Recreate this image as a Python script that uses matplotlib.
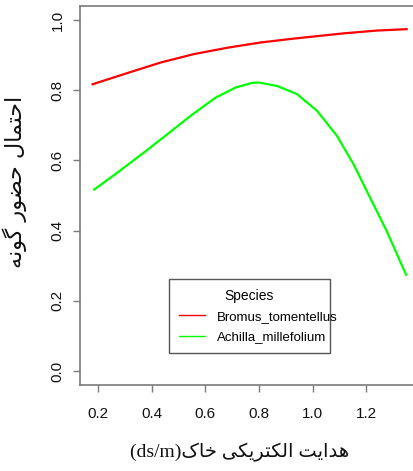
import matplotlib
matplotlib.use("Agg")
import matplotlib.pyplot as plt
from matplotlib import font_manager

# values
red_x = [0.18, 0.31, 0.434, 0.558, 0.682, 0.806, 0.929, 1.115, 1.24, 1.351]
red_y = [0.817, 0.849, 0.879, 0.903, 0.921, 0.936, 0.947, 0.962, 0.970, 0.974]
green_x = [0.186, 0.279, 0.379, 0.466, 0.552, 0.639, 0.714, 0.775, 0.80, 0.868,
           0.942, 1.017, 1.091, 1.153, 1.215, 1.277, 1.349]
green_y = [0.517, 0.569, 0.627, 0.679, 0.731, 0.779, 0.808, 0.821, 0.822, 0.812,
           0.789, 0.741, 0.670, 0.589, 0.493, 0.398, 0.274]
species = ["Bromus_tomentellus", "Achilla_millefolium"]
x_ticks = [0.2, 0.4, 0.6, 0.8, 1.0, 1.2]
y_ticks = [0.0, 0.2, 0.4, 0.6, 0.8, 1.0]
x_label_fa = "هدایت الکتریکی خاک"
x_label_unit = "(ds/m)"
y_label_fa = "احتمال حضور گونه"

# presentation forms: iso, fin, ini, med (None -> letter does not join forward)
FORMS = {
    "ا": ("\uFE8D", "\uFE8E", None, None),
    "د": ("\uFEA9", "\uFEAA", None, None),
    "ر": ("\uFEAD", "\uFEAE", None, None),
    "و": ("\uFEED", "\uFEEE", None, None),
    "ح": ("\uFEA1", "\uFEA2", "\uFEA3", "\uFEA4"),
    "خ": ("\uFEA5", "\uFEA6", "\uFEA7", "\uFEA8"),
    "ت": ("\uFE95", "\uFE96", "\uFE97", "\uFE98"),
    "م": ("\uFEE1", "\uFEE2", "\uFEE3", "\uFEE4"),
    "ل": ("\uFEDD", "\uFEDE", "\uFEDF", "\uFEE0"),
    "ض": ("\uFEBD", "\uFEBE", "\uFEBF", "\uFEC0"),
    "ن": ("\uFEE5", "\uFEE6", "\uFEE7", "\uFEE8"),
    "ه": ("\uFEE9", "\uFEEA", "\uFEEB", "\uFEEC"),
    "گ": ("\uFB92", "\uFB93", "\uFB94", "\uFB95"),
    "ک": ("\uFB8E", "\uFB8F", "\uFB90", "\uFB91"),
    "ی": ("\uFBFC", "\uFBFD", "\uFBFE", "\uFBFF"),
}


def shape(text):
    # join arabic letters and flip to visual (left-to-right) order
    out = []
    for i, ch in enumerate(text):
        if ch not in FORMS:
            out.append(ch)
            continue
        prev = text[i - 1] if i > 0 else ""
        nxt = text[i + 1] if i + 1 < len(text) else ""
        joins_prev = prev in FORMS and FORMS[prev][2] is not None
        joins_next = nxt in FORMS and FORMS[ch][2] is not None
        iso, fin, ini, med = FORMS[ch]
        if joins_prev and joins_next:
            out.append(med)
        elif joins_prev:
            out.append(fin)
        elif joins_next:
            out.append(ini)
        else:
            out.append(iso)
    return "".join(out[::-1])


names = {f.name for f in font_manager.fontManager.ttflist}
sans = "Liberation Sans Narrow" if "Liberation Sans Narrow" in names else "Liberation Sans"
plt.rcParams["font.family"] = [sans, "DejaVu Sans"]

W, H = 414, 471
fig = plt.figure(figsize=(W / 100, H / 100), dpi=100)
ax = fig.add_axes([80 / W, (H - 385) / H, 339 / W, 379 / H])

ax.plot(red_x, red_y, color="#ff0000", lw=1.6, label=species[0])
ax.plot(green_x, green_y, color="#00ff00", lw=1.6, label=species[1])

ax.set_xlim(0.133, 1.397)
ax.set_ylim(-0.04, 1.04)
ax.set_xticks(x_ticks)
ax.set_xticklabels([f"{v:.1f}" for v in x_ticks])
ax.set_yticks(y_ticks)
ax.set_yticklabels([f"{v:.1f}" for v in y_ticks], rotation=90, va="center")

grey = "#7a7a7a"
for sp in ax.spines.values():
    sp.set_color(grey)
    sp.set_linewidth(1.2)
ax.tick_params(axis="both", direction="out", length=5, width=1, color=grey,
               labelsize=11, labelcolor="#111111")
ax.tick_params(axis="x", pad=11)
ax.tick_params(axis="y", pad=6)

leg = ax.legend(title="Species", loc="upper left",
                bbox_to_anchor=(0.2625, 0.0765, 0.475, 0.2032), mode="expand",
                fontsize=9.5, title_fontsize=10, frameon=True, fancybox=False,
                edgecolor="#555555", framealpha=1, handlelength=2.0,
                handletextpad=0.9, borderpad=0.75, labelspacing=0.6, borderaxespad=0)
leg.get_frame().set_linewidth(1.0)
for ln in leg.get_lines():
    ln.set_linewidth(1.0)

fig.text(240 / W, 1 - 452 / H, x_label_unit + shape(x_label_fa),
         family=["Liberation Serif", "DejaVu Sans"], fontsize=14,
         ha="center", va="center", color="#111111")
fig.text(15 / W, 1 - 182 / H, shape(y_label_fa), family=["DejaVu Sans"],
         fontsize=16, rotation=90, ha="center", va="center", color="#111111")

fig.savefig("out.png", dpi=100)
